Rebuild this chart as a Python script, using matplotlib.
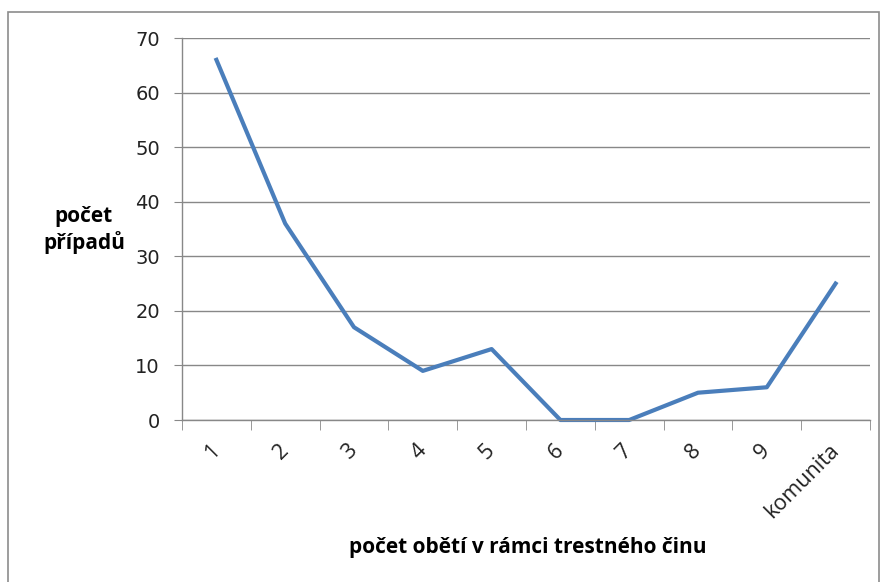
import matplotlib
matplotlib.use("Agg")
import matplotlib.pyplot as plt
from matplotlib.patches import Rectangle
import numpy as np

categories = ['1', '2', '3', '4', '5', '6', '7', '8', '9', 'komunita']
cases = [66, 36, 17, 9, 13, 0, 0, 5, 6, 25]

fig = plt.figure(figsize=(8.83, 5.82), dpi=100)
ax = fig.add_axes([182 / 883, 1 - 420 / 582, (870 - 182) / 883, (420 - 38) / 582])

# outer chart border
fig.patches.append(Rectangle((8 / 883, -0.05), (879 - 8) / 883, 1 - 12 / 582 + 0.05,
                             transform=fig.transFigure, fill=False,
                             edgecolor='#8c8c8c', linewidth=1.2))

x = np.arange(len(categories))
ax.plot(x, cases, color='#4a7ebb', linewidth=3, solid_joinstyle='round', clip_on=False)

ax.set_xlim(-0.5, len(categories) - 0.5)
ax.set_ylim(0, 70)
ax.set_yticks(range(0, 71, 10))
ax.yaxis.grid(True, color='#888888', linewidth=1)
ax.set_axisbelow(True)

for side in ['top', 'right']:
    ax.spines[side].set_visible(False)
for side in ['left', 'bottom']:
    ax.spines[side].set_color('#888888')
    ax.spines[side].set_linewidth(1)

ax.tick_params(axis='y', length=6, color='#888888', labelsize=14, pad=10,
               labelcolor='#222222')
ax.set_xticks(x)
ax.set_xticks(np.arange(-0.5, len(categories)), minor=True)
ax.tick_params(axis='x', which='major', length=0, pad=20)
ax.tick_params(axis='x', which='minor', length=7, color='#888888')
ax.set_xticklabels(categories, rotation=45, ha='right', va='center',
                   rotation_mode='anchor', fontsize=15.5, family='Open Sans',
                   color='#222222')

fig.text(84 / 883, 1 - 230 / 582, 'počet\npřípadů', ha='center', va='center',
         fontsize=15, fontweight='bold', family='Open Sans', linespacing=1.2)
fig.text(528 / 883, 1 - 548 / 582, 'počet obětí v rámci trestného činu',
         ha='center', va='center', fontsize=15, fontweight='bold', family='Open Sans')

fig.savefig('out.png', dpi=100)
